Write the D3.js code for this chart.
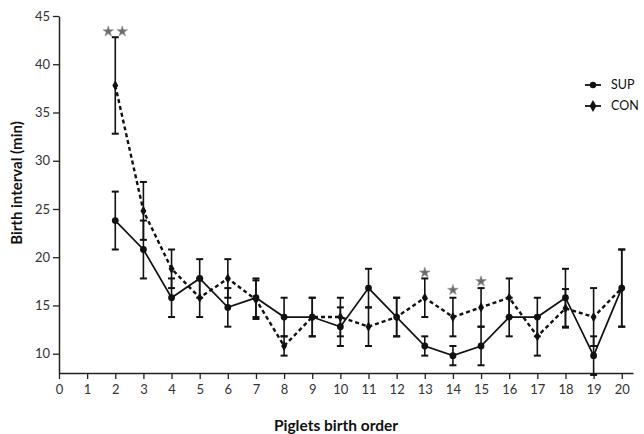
<!DOCTYPE html>
<html><head><meta charset="utf-8">
<script src="https://cdn.jsdelivr.net/npm/d3@7"></script>
<style>body{margin:0;background:#fff}svg{display:block}</style>
</head><body>
<svg id="c" width="644" height="434"></svg>
<script>
const order = d3.range(2, 21);
const supMean = [23.8, 20.8, 15.8, 17.8, 14.8, 15.8, 13.8, 13.8, 12.8, 16.8, 13.8, 10.8, 9.8, 10.8, 13.8, 13.8, 15.8, 9.8, 16.8];
const supErr  = [3, 3, 2, 2, 2, 2, 2, 2, 2, 2, 2, 1, 1, 2, 2, 2, 3, 2, 4];
const conMean = [37.8, 24.8, 18.8, 15.8, 17.8, 15.6, 10.8, 13.8, 13.8, 12.8, 13.8, 15.8, 13.8, 14.8, 15.8, 11.8, 14.7, 13.8, 16.8];
const conErr  = [5, 3, 2, 2, 2, 2, 1, 2, 2, 2, 2, 2, 2, 2, 2, 2, 2, 3, 4];
const starPos = [2, 13, 14, 15];
const starVal = [43.4, 18.4, 16.6, 17.5];
const starCount = [2, 1, 1, 1];
const xTicks = d3.range(0, 21);
const yTicks = [10, 15, 20, 25, 30, 35, 40, 45];
const seriesNames = ["SUP", "CON"];

const svg = d3.select("#c");
const x = d3.scaleLinear().domain([0, 20.4]).range([59, 633]);
const y = d3.scaleLinear().domain([8, 45]).range([373, 16]);
const font = "Lato, 'Open Sans', sans-serif";

const sup = order.map((o, i) => ({o, m: supMean[i], e: supErr[i]}));
const con = order.map((o, i) => ({o, m: conMean[i], e: conErr[i]}));

// axes
const xa = svg.append("g").attr("transform", "translate(0,373)")
  .call(d3.axisBottom(x).tickValues(xTicks).tickFormat(d3.format("d")).tickSize(6).tickSizeOuter(0));
const ya = svg.append("g").attr("transform", "translate(59,0)")
  .call(d3.axisLeft(y).tickValues(yTicks).tickSize(6).tickSizeOuter(0));
[xa, ya].forEach(g => {
  g.select(".domain").attr("stroke", "#222").attr("stroke-width", 1.5);
  g.selectAll(".tick line").attr("stroke", "#222").attr("stroke-width", 1.3);
  g.selectAll(".tick text").attr("font-family", font).attr("font-size", 13).attr("fill", "#333");
});
xa.selectAll(".tick text").attr("dy", "0.9em");

// error bars
function errBars(data, cls) {
  const g = svg.append("g").attr("class", cls).attr("stroke", "#111").attr("stroke-width", 1.6);
  g.selectAll("line.v").data(data).join("line")
    .attr("x1", d => x(d.o)).attr("x2", d => x(d.o))
    .attr("y1", d => y(d.m - d.e)).attr("y2", d => y(d.m + d.e));
  ["-", "+"].forEach(s => {
    g.selectAll("line.c" + (s === "-" ? "lo" : "hi")).data(data).join("line")
      .attr("x1", d => x(d.o) - 3.5).attr("x2", d => x(d.o) + 3.5)
      .attr("y1", d => y(s === "-" ? d.m - d.e : d.m + d.e))
      .attr("y2", d => y(s === "-" ? d.m - d.e : d.m + d.e))
      .attr("stroke-width", 2);
  });
}
errBars(con, "conErr");
errBars(sup, "supErr");

const line = d3.line().x(d => x(d.o)).y(d => y(d.m));
svg.append("path").datum(con).attr("d", line).attr("fill", "none")
  .attr("stroke", "#111").attr("stroke-width", 2.4).attr("stroke-dasharray", "4,3");
svg.append("path").datum(sup).attr("d", line).attr("fill", "none")
  .attr("stroke", "#111").attr("stroke-width", 1.7);

const diamond = d3.symbol().type(d3.symbolDiamond).size(30);
svg.append("g").selectAll("path").data(con).join("path")
  .attr("d", diamond).attr("transform", d => `translate(${x(d.o)},${y(d.m)})`).attr("fill", "#111");
svg.append("g").selectAll("circle").data(sup).join("circle")
  .attr("cx", d => x(d.o)).attr("cy", d => y(d.m)).attr("r", 3.4).attr("fill", "#111");

// stars
const star = d3.symbol().type(d3.symbolStar).size(36);
starPos.forEach((p, i) => {
  const n = starCount[i];
  for (let k = 0; k < n; k++) {
    const dx = n === 1 ? 0 : (k === 0 ? -7 : 7);
    svg.append("path").attr("d", star)
      .attr("transform", `translate(${x(p) + dx},${y(starVal[i])})`)
      .attr("fill", "#6a6a6a").attr("stroke", "#999").attr("stroke-width", 0.6);
  }
});

// legend
const lg = svg.append("g");
seriesNames.forEach((n, i) => {
  const yy = 85 + i * 21;
  lg.append("line").attr("x1", 585).attr("x2", 601).attr("y1", yy).attr("y2", yy)
    .attr("stroke", "#111").attr("stroke-width", 1.8);
  if (i === 0) lg.append("circle").attr("cx", 593).attr("cy", yy).attr("r", 3.2).attr("fill", "#111");
  else lg.append("path").attr("d", d3.symbol().type(d3.symbolDiamond).size(40)).attr("transform", `translate(593,${yy})`).attr("fill", "#111");
  lg.append("text").attr("x", 611).attr("y", yy).attr("dy", "0.35em")
    .attr("font-family", font).attr("font-size", 12.5).attr("fill", "#111").text(n);
});

// axis titles
svg.append("text").attr("transform", "translate(22,183) rotate(-90)")
  .attr("text-anchor", "middle").attr("font-family", font).attr("font-weight", "bold")
  .attr("font-size", 15).attr("fill", "#111").text("Birth interval (min)");
svg.append("text").attr("x", 336).attr("y", 431)
  .attr("text-anchor", "middle").attr("font-family", font).attr("font-weight", "bold")
  .attr("font-size", 15.5).attr("fill", "#111").text("Piglets birth order");
</script>
</body></html>
